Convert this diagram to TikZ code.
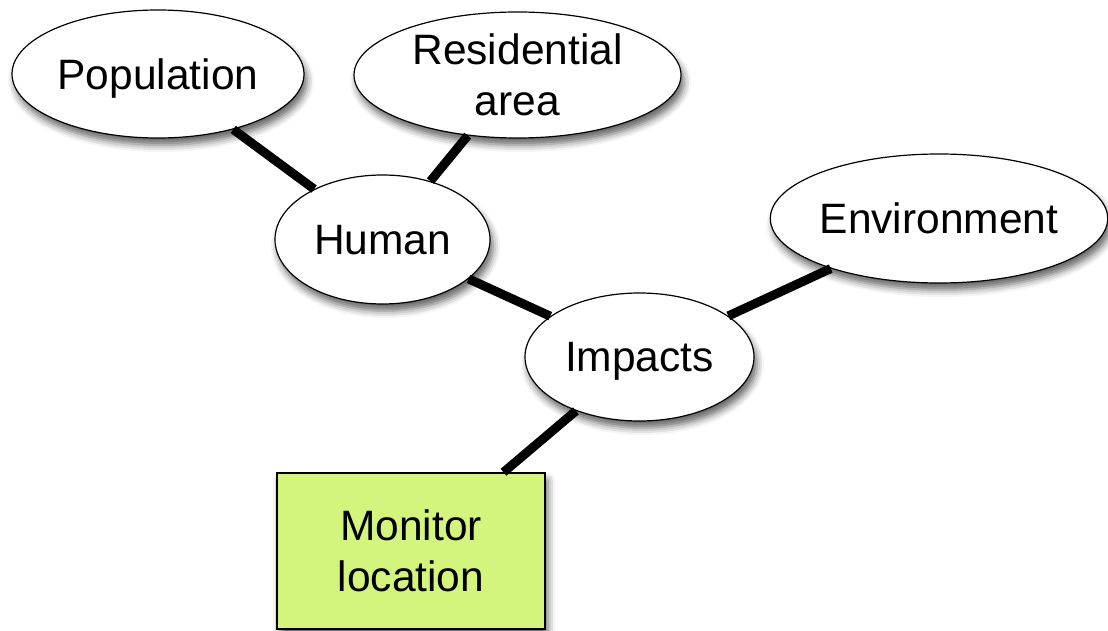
\documentclass[tikz,border=0pt]{standalone}
\usepackage{fontspec}
\setmainfont{Liberation Sans}
\usetikzlibrary{shapes.geometric,shadows.blur}
\definecolor{monitorgreen}{RGB}{212,245,125}
\begin{document}
\begin{tikzpicture}[x=1pt,y=-1pt,
  every node/.style={font=\fontsize{42.5}{51}\selectfont, inner sep=0pt},
  softshadow/.style={blur shadow={shadow xshift=3pt, shadow yshift=-7pt,
      shadow blur radius=7pt, shadow opacity=60}},
  bubble/.style={ellipse, draw=black, line width=1.2pt, fill=white, softshadow},
  oneline/.style={text depth=0pt},
  panel/.style={rectangle, draw=black, line width=1.5pt, fill=monitorgreen,
      softshadow, align=center},
  link/.style={line width=9pt, draw=black}]
\useasboundingbox (0,0) rectangle (1108,631);

% concept bubbles
\node[bubble, oneline, minimum width=292pt, minimum height=128pt] (pop) at (158,74) {Population};
\node[bubble, align=center, minimum width=327pt, minimum height=126pt] (res) at (517.5,75) {Residential\\area};
\node[bubble, oneline, minimum width=215pt, minimum height=129pt] (hum) at (382.5,239.5) {Human};
\node[bubble, oneline, minimum width=229pt, minimum height=128pt] (imp) at (639.5,357) {Impacts};
\node[bubble, oneline, minimum width=334pt, minimum height=129pt] (env) at (939,218.5) {Environment};

% highlighted target box
\node[panel, minimum width=268pt, minimum height=156pt] (mon) at (411,551) {Monitor\\location};

% links between concepts
\draw[link] (pop) -- (hum);
\draw[link] (res) -- (hum);
\draw[link] (hum) -- (imp);
\draw[link] (env) -- (imp);
\draw[link] (imp) -- (mon);
\end{tikzpicture}
\end{document}
